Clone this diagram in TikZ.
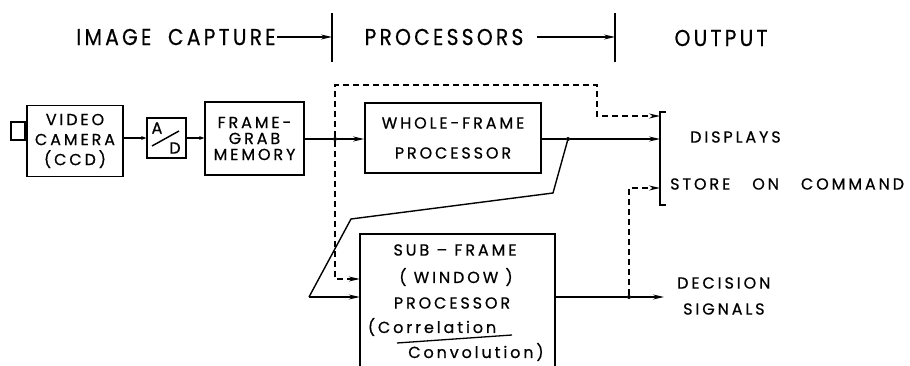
\documentclass[tikz,border=0pt]{standalone}
\usepackage{fontspec}
\setmainfont{Poppins}
\newfontfamily\dfont[LetterSpace=18,FakeBold=0.6]{Poppins}
\newfontfamily\hfont[LetterSpace=14,FakeStretch=0.88,FakeBold=0.5]{Poppins}
\usetikzlibrary{arrows.meta}
\begin{document}
\begin{tikzpicture}[x=1pt,y=-1pt,
  box/.style={draw, line width=1.7pt, inner sep=0pt, align=center, font=\dfont\fontsize{16}{19}\selectfont},
  lbl/.style={inner sep=0pt, align=center, font=\dfont\fontsize{16}{19}\selectfont},
  hlbl/.style={inner sep=1pt, font=\hfont\fontsize{23}{26}\selectfont},
  conn/.style={line width=1.4pt},
  dsh/.style={line width=1.3pt, dash pattern=on 6pt off 4pt},
  arr/.style={-{Stealth[length=11pt,width=5pt]}},
  arrs/.style={-{Stealth[length=5pt,width=4pt]}},
  jdot/.style={circle, fill, inner sep=0pt, minimum size=4pt},
  bar/.style={line width=1.4pt}]
\useasboundingbox (0,0) rectangle (910,366);

% header
\node[hlbl] (h1) at (176,37) {IMAGE\hspace{8pt} CAPTURE};
\node[hlbl] (h2) at (444,37) {PROCESSORS};
\node[hlbl] (h3) at (721,38) {OUTPUT};
\coordinate (b1t) at (332,13); \coordinate (b1b) at (332,62);
\coordinate (b2t) at (615,13); \coordinate (b2b) at (615,62);
\draw[bar] (b1t) -- (b1b);
\draw[bar] (b2t) -- (b2b);
\draw[conn,arr] (h1.east) -- (b1t |- h1.east);
\draw[conn,arr] (537,37) coordinate (h2a) -- (b2t |- h2a);

% image capture row
\node[box, minimum width=96pt, minimum height=71pt] (cam) at (75,141)
  {VIDEO\\[1pt]CAMERA\\[1pt](CCD)};
\node[draw, line width=1.7pt, minimum width=14pt, minimum height=18pt, inner sep=0pt, anchor=east] (lens) at (cam.west |- 0,131) {};
\node[box, minimum width=39pt, minimum height=40pt] (ad) at (166.5,138) {};
\node[lbl] (adA) at (157,128) {A};
\node[lbl] (adD) at (175,148) {D};
\draw[line width=1.5pt] (152,146) -- (179,131);
\node[box, minimum width=99pt, minimum height=73pt, font=\dfont\fontsize{16}{16}\selectfont] (fg) at (254.5,138.5)
  {FRAME-\\GRAB\\MEMORY};

% processors
\node[box, minimum width=176pt, minimum height=70pt] (wf) at (453,138)
  {WHOLE-FRAME\\[11pt]PROCESSOR};
\node[minimum width=195pt, minimum height=132pt, inner sep=0pt] (sf) at (457.5,300) {};
\draw[line width=1.7pt] (sf.south west) -- (sf.north west) -- (sf.north east) -- (sf.south east);
\node[lbl] (sf1) at (455,250) {SUB – FRAME};
\node[lbl] (sf2) at (456,277) {( WINDOW )};
\node[lbl] (sf3) at (452,303) {PROCESSOR};
\node[lbl] (sf4) at (432,327) {(Correlation};
\node[lbl] (sf5) at (476,352) {Convolution)};
\draw[line width=1.3pt] (397,343) -- (512,335);

% main signal path
\draw[conn,arrs] (cam.east |- ad.west) -- (ad.west);
\draw[conn,arrs] (ad.east) -- (fg.west |- ad.east);
\node[jdot] (j1) at (335,139) {};
\draw[conn] (fg.east |- j1) -- (j1);
\draw[conn,arr] (j1) -- (wf.west |- j1);
\node[jdot] (j2) at (568,139) {};
\draw[conn] (wf.east |- j2) -- (j2);

% output bracket
\coordinate (brT) at (660,112); \coordinate (brB) at (660,205);
\draw[bar] (666,112) -- (brT) -- (brB) -- (666,205);
\draw[conn,arr] (j2) -- (brT |- j2);

% dashed paths from j1
\coordinate (d1) at (597,85);
\coordinate (d2) at (597,116);
\coordinate (d3) at (660,116);
\draw[dsh,arr] (j1) |- (d1) -- (d2) -- (d3);
\coordinate (sfin1) at (sf.west |- 0,279);
\draw[dsh,arr] (j1) |- (sfin1);

% feedback path
\coordinate (fb1) at (553,193);
\coordinate (fb2) at (351,219);
\coordinate (fb3) at (309,297);
\coordinate (sfin2) at (sf.west |- 0,297);
\draw[conn] (j2) -- (fb1) -- (fb2) -- (fb3);
\draw[conn,arr] (fb3) -- (sfin2);

% decision output
\node[jdot] (j3) at (629,297) {};
\draw[conn] (sf.east |- j3) -- (j3);
\coordinate (dsig) at (664,297);
\draw[conn,arr] (j3) -- (dsig);
\coordinate (store) at (660,188);
\draw[dsh,arr] (j3) |- (store);

% output labels
\node[lbl, anchor=west] (o1) at (690,137) {DISPLAYS};
\node[lbl, anchor=west] (o2) at (670,184) {STORE\hspace{22pt}ON\hspace{22pt}COMMAND};
\node[lbl, anchor=west] (o3) at (677,283) {DECISION};
\node[lbl, anchor=west] (o4) at (683,309) {SIGNALS};
\end{tikzpicture}
\end{document}
